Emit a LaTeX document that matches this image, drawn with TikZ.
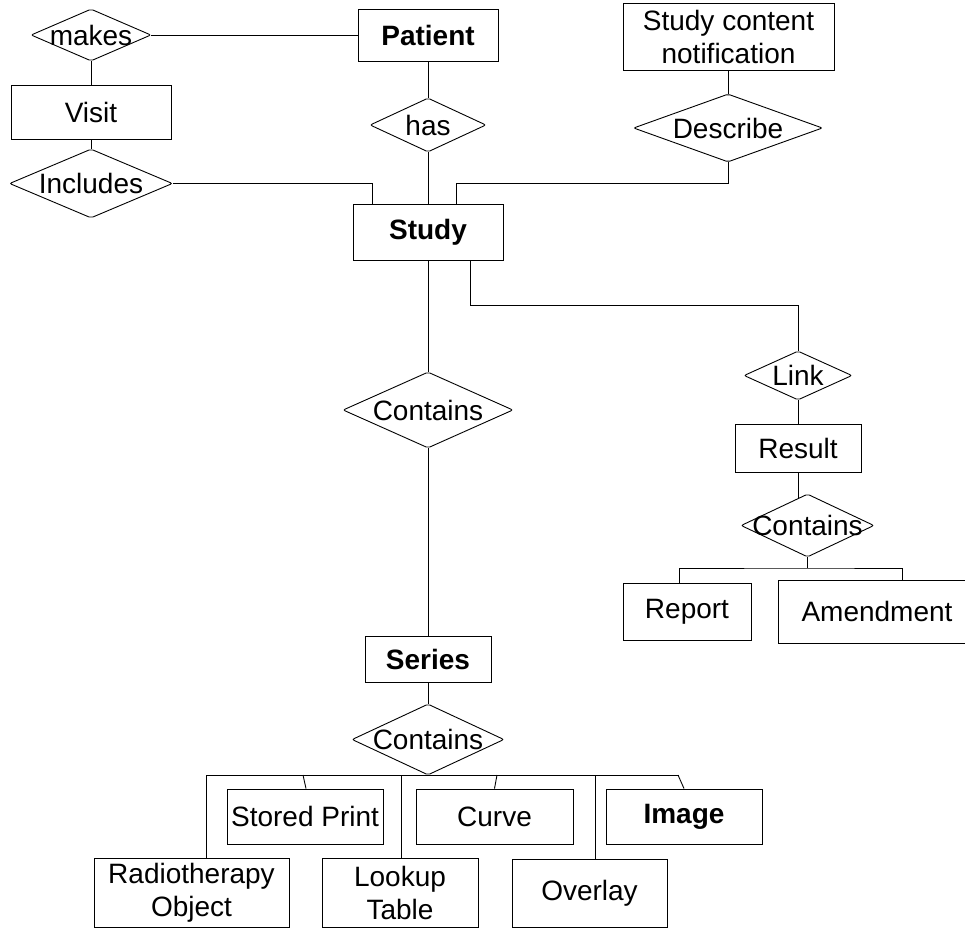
\documentclass[tikz,border=0pt]{standalone}
\usepackage{fontspec}
\setmainfont{Liberation Sans}
\usetikzlibrary{shapes.geometric}
\newcommand\erfont{\fontsize{28}{33}\selectfont}
\begin{document}
\begin{tikzpicture}[x=1pt,y=-1pt,line width=0.9pt,
  font=\erfont,
  ent/.style 2 args={draw, rectangle, inner sep=0pt, align=center, minimum width=#1, minimum height=#2},
  rel/.style 2 args={draw, diamond, inner sep=0pt, minimum width=#1, minimum height=#2, rounded corners=2pt},
  bold/.style={font=\erfont\bfseries}]
\useasboundingbox (0,0) rectangle (965,928);

% entities
\node[ent={140}{52}, bold] (patient) at (428,35) {Patient};
\node[ent={160}{54}] (visit) at (91,112) {Visit};
\node[ent={150}{56}, bold] (study) at (428,232) {Study};
\node[ent={211}{67}] (scn) at (728.5,36.5) {Study content\\notification};
\node[ent={126}{48}] (result) at (798,448) {Result};
\node[ent={128}{57}] (report) at (687,611.5) {Report};
\node[ent={198}{63}] (amend) at (877,611.5) {Amendment};
\node[ent={126}{46}, bold] (series) at (428,659) {Series};
\node[ent={156}{55}] (sp) at (305,816.5) {Stored Print};
\node[ent={157}{55}] (curve) at (494.5,816.5) {Curve};
\node[ent={156}{55}, bold] (image) at (684,816.5) {Image};
\node[ent={195}{69}] (radio) at (191.5,892.5) {Radiotherapy\\Object};
\node[ent={156}{69}] (lookup) at (400,892.5) {Lookup\\Table};
\node[ent={155}{68}] (overlay) at (589.5,893) {Overlay};

% relationships
\node[rel={120}{52}, label={[name=makesT]center:makes}] (makes) at (91,35) {};
\node[rel={116}{54}, label={[name=hasT]center:has}] (has) at (428,125) {};
\node[rel={163}{69}, label={[name=includesT]center:Includes}] (includes) at (91,183.5) {};
\node[rel={189}{68}, label={[name=describeT]center:Describe}] (describe) at (728,128) {};
\node[rel={170}{76}, label={[name=cont1T]center:Contains}] (cont1) at (428,410) {};
\node[rel={108}{49}, label={[name=linkT]center:Link}] (link) at (798,375.5) {};
\node[rel={133}{63}, label={[name=cont2T]center:Contains}] (cont2) at (807.5,525.5) {};
\node[rel={152}{71}, label={[name=cont3T]center:Contains}] (cont3) at (428,739.5) {};

% helper coordinates
\coordinate (dbend) at (728,183);
\coordinate (lbend) at (798,305);
\coordinate (rbus) at (807.5,568);
\coordinate (bSP) at (303,775);
\coordinate (bCU) at (497,775);
\coordinate (bIM) at (678,775);

% connectors
\draw (makes.east) -- (patient.west);
\draw (makes.south) -- (visit.north);
\draw (visit.south) -- (includes.north);
\draw (includes.east) -| ([xshift=-56pt]study.north);
\draw (patient.south) -- (has.north);
\draw (has.south) -- (study.north);
\draw (scn.south) -| (describe.north);
\draw (describe.south) -- (dbend) -| ([xshift=28pt]study.north);
\draw (study.south) -- (cont1.north);
\draw (cont1.south) -- (series.north);
\draw ([xshift=42pt]study.south) |- (lbend) -- (link.north);
\draw (link.south) -- (result.north);
\draw (result.south) -- ([xshift=-9.5pt,yshift=-4pt]cont2.north);
\draw (cont2.south) -- (rbus);
\draw ([xshift=-8pt]report.north) |- (rbus) -| ([xshift=25pt]amend.north);
\draw (series.south) -- (cont3.north);
\draw ([xshift=14.5pt]radio.north) |- (cont3.south) -| (bIM);
\draw (bSP) -- ([xshift=1pt]sp.north);
\draw (cont3.south -| lookup.north) ++(1,0) -- ([xshift=1pt]lookup.north);
\draw (bCU) -- (curve.north);
\draw (cont3.south -| overlay.north) ++(5.5,0) -- ([xshift=5.5pt]overlay.north);
\draw (bIM) -- (image.north);
\end{tikzpicture}
\end{document}
